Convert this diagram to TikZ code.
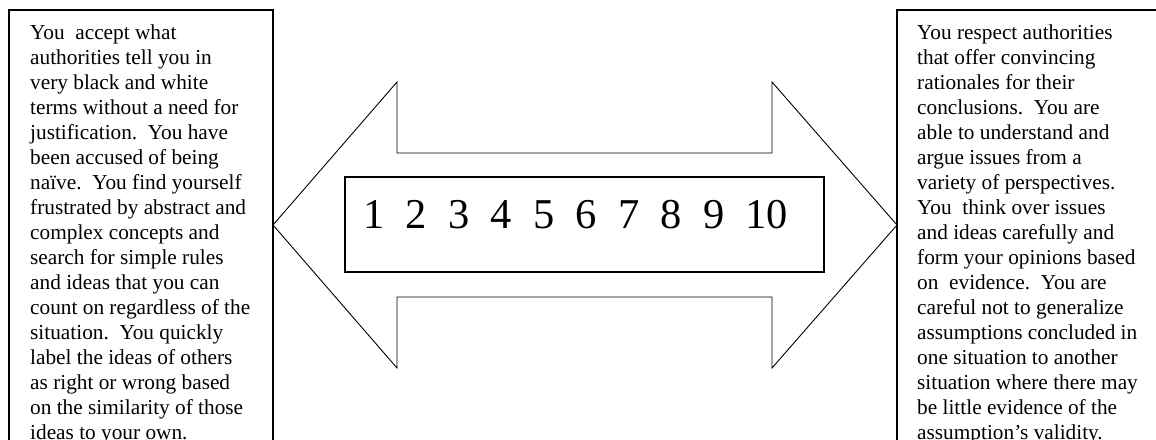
\documentclass[tikz,border=0pt]{standalone}
\usepackage{fontspec}
\setmainfont{Liberation Serif}
\usetikzlibrary{positioning, calc}

\begin{document}
\begin{tikzpicture}[
  x=1pt, y=-1pt,
  panel/.style={draw, line width=1.6pt},
  blurb/.style={inner sep=0pt, anchor=north west, align=left, font=\fontsize{21.3}{25}\selectfont},
  scalebox/.style={draw, line width=1.3pt},
  scaletext/.style={inner sep=0pt, anchor=base west, font=\fontsize{42.5}{50}\selectfont},
  bigarrow/.style={draw, line width=0.9pt, line join=miter}
]
\useasboundingbox (0,0) rectangle (1156,439);
\clip (0,0) rectangle (1156,439);

% side panels
\draw[panel] (9,10) rectangle (273,470);
\draw[panel] (897,10) rectangle (1180,470);

\node[blurb] (naive) at (30,25) {You\ \ accept what\\
authorities tell you in\\
very black and white\\
terms without a need for\\
justification.\ \ You have\\
been accused of being\\
naïve.\ \ You find yourself\\
frustrated by abstract and\\
complex concepts and\\
search for simple rules\\
and ideas that you can\\
count on regardless of the\\
situation.\ \ You quickly\\
label the ideas of others\\
as right or wrong based\\
on the similarity of those\\
ideas to your own.};

\node[blurb] (critical) at (917,25) {You respect authorities\\
that offer convincing\\
rationales for their\\
conclusions.\ \ You are\\
able to understand and\\
argue issues from a\\
variety of perspectives.\\
You\ \ think over issues\\
and ideas carefully and\\
form your opinions based\\
on\ \ evidence.\ \ You are\\
careful not to generalize\\
assumptions concluded in\\
one situation to another\\
situation where there may\\
be little evidence of the\\
assumption’s validity.};

% double arrow
\draw[bigarrow] (273,225) -- (397,82) -- (397,153) -- (772,153) -- (772,82)
  -- (897,225) -- (772,368) -- (772,297) -- (397,297) -- (397,368) -- cycle;

% scale
\draw[scalebox] (345,177) rectangle (824,272);
\node[scaletext] (scale) at (363,228) {1\ \ 2\ \ 3\ \ 4\ \ 5\ \ 6\ \ 7\ \ 8\ \ 9\ \ 10};
\end{tikzpicture}
\end{document}
